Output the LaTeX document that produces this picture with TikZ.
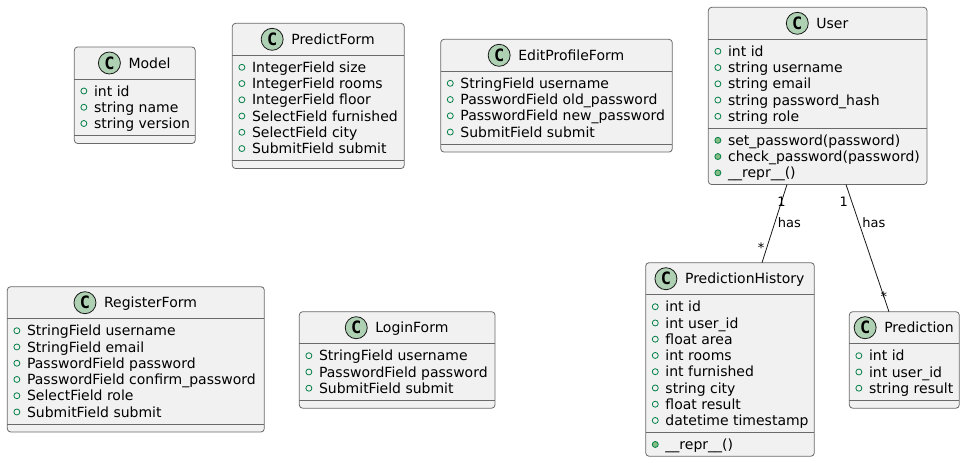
\documentclass[tikz,border=0pt]{standalone}
\usepackage{fontspec}
\setmainfont{DejaVu Sans}
\newfontfamily\circfont{DejaVu Sans Mono}
\usetikzlibrary{positioning,fit}
\definecolor{umlline}{HTML}{181818}
\definecolor{umlborder}{HTML}{6A6A6A}
\definecolor{umlfill}{HTML}{F1F1F1}
\definecolor{umlcirc}{HTML}{ADD1B2}
\definecolor{umlvis}{HTML}{038048}
\definecolor{umlmeth}{HTML}{84BE84}
\tikzset{
  clsbox/.style={draw=umlborder, fill=umlfill, line width=0.6pt, rounded corners=2.5pt, inner sep=0pt, outer sep=0pt},
  clssep/.style={draw=umlborder, line width=0.6pt},
  clsname/.style={inner sep=0pt, text height=7.65pt, text depth=0pt, font=\fontsize{10.5}{12}\selectfont},
  clsicon/.style={circle, draw=umlline, fill=umlcirc, line width=0.6pt, minimum size=16.5pt, inner sep=0pt, font=\circfont\bfseries\fontsize{12.75}{14}\selectfont},
  member/.style={anchor=west, inner sep=0pt, text height=7.65pt, text depth=0pt, font=\fontsize{10.5}{12}\selectfont},
  fieldic/.style={circle, draw=umlvis, line width=0.6pt, minimum size=4.5pt, inner sep=0pt},
  methic/.style={fieldic, fill=umlmeth},
  assoc/.style={draw=umlline, line width=0.6pt},
  mult/.style={inner sep=0pt, font=\fontsize{9.75}{11}\selectfont},
}

\begin{document}
\begin{tikzpicture}[x=0.75pt, y=-0.75pt]
  \useasboundingbox (0,0) rectangle (965,462);

  % Model
  \node[clsbox, fit={(74.3,47) (195.3,143.5)}] (model) {};
  \node[clsname] (model-name) at (149.55,63) {Model};
  \node[clsicon, left=5.6pt of model-name] (model-icon) {C};
  \draw[clssep] (model.west |- 0,79) -- (model.east |- 0,79);
  \draw[clssep] (model.west |- 0,135.5) -- (model.east |- 0,135.5);
  \foreach \t [count=\i] in {int id, string name, string version} {
    \node[member] (model-a\i) at (93.8,74.75+16.25*\i) {\t};
    \node[fieldic, left=4.9pt of model-a\i] (model-ai\i) {};
  }

  % PredictForm
  \node[clsbox, fit={(232.3,23.3) (404.3,168.55)}] (pform) {};
  \node[clsname] (pform-name) at (333.05,39.3) {PredictForm};
  \node[clsicon, left=5.6pt of pform-name] (pform-icon) {C};
  \draw[clssep] (pform.west |- 0,55.3) -- (pform.east |- 0,55.3);
  \draw[clssep] (pform.west |- 0,160.55) -- (pform.east |- 0,160.55);
  \foreach \t [count=\i] in {IntegerField size, IntegerField rooms, IntegerField floor,
      SelectField furnished, SelectField city, SubmitField submit} {
    \node[member] (pform-a\i) at (251.8,51.05+16.25*\i) {\t};
    \node[fieldic, left=4.9pt of pform-a\i] (pform-ai\i) {};
  }

  % EditProfileForm
  \node[clsbox, fit={(440.7,39.3) (672.3,152.05)}] (eform) {};
  \node[clsname] (eform-name) at (571.25,55.3) {EditProfileForm};
  \node[clsicon, left=5.6pt of eform-name] (eform-icon) {C};
  \draw[clssep] (eform.west |- 0,71.3) -- (eform.east |- 0,71.3);
  \draw[clssep] (eform.west |- 0,144.05) -- (eform.east |- 0,144.05);
  \foreach \t [count=\i] in {StringField username, PasswordField old\_password,
      PasswordField new\_password, SubmitField submit} {
    \node[member] (eform-a\i) at (460.2,67.05+16.25*\i) {\t};
    \node[fieldic, left=4.9pt of eform-a\i] (eform-ai\i) {};
  }

  % User
  \node[clsbox, fit={(708.3,7.3) (927,184.55)}] (user) {};
  \node[clsname] (user-name) at (832.4,23.3) {User};
  \node[clsicon, left=5.6pt of user-name] (user-icon) {C};
  \draw[clssep] (user.west |- 0,39.3) -- (user.east |- 0,39.3);
  \draw[clssep] (user.west |- 0,128.3) -- (user.east |- 0,128.3);
  \foreach \t [count=\i] in {int id, string username, string email,
      string password\_hash, string role} {
    \node[member] (user-a\i) at (727.8,35.05+16.25*\i) {\t};
    \node[fieldic, left=4.9pt of user-a\i] (user-ai\i) {};
  }
  \foreach \t [count=\i] in {set\_password(password), check\_password(password), \_\_repr\_\_()} {
    \node[member] (user-m\i) at (727.8,124.05+16.25*\i) {\t};
    \node[methic, left=4.9pt of user-m\i] (user-mi\i) {};
  }

  % PredictionHistory
  \node[clsbox, fit={(645.7,262.7) (814.3,456.2)}] (hist) {};
  \node[clsname] (hist-name) at (744.75,278.7) {PredictionHistory};
  \node[clsicon, left=5.6pt of hist-name] (hist-icon) {C};
  \draw[clssep] (hist.west |- 0,294.7) -- (hist.east |- 0,294.7);
  \draw[clssep] (hist.west |- 0,432.45) -- (hist.east |- 0,432.45);
  \foreach \t [count=\i] in {int id, int user\_id, float area, int rooms,
      int furnished, string city, float result, datetime timestamp} {
    \node[member] (hist-a\i) at (665.2,290.45+16.25*\i) {\t};
    \node[fieldic, left=4.9pt of hist-a\i] (hist-ai\i) {};
  }
  \node[member] (hist-m1) at (665.2,444.45) {\_\_repr\_\_()};
  \node[methic, left=4.9pt of hist-m1] (hist-mi1) {};

  % Prediction
  \node[clsbox, fit={(849.3,311.7) (959.3,408.2)}] (pred) {};
  \node[clsname] (pred-name) at (919.05,327.7) {Prediction};
  \node[clsicon, left=5.6pt of pred-name] (pred-icon) {C};
  \draw[clssep] (pred.west |- 0,343.7) -- (pred.east |- 0,343.7);
  \draw[clssep] (pred.west |- 0,400.2) -- (pred.east |- 0,400.2);
  \foreach \t [count=\i] in {int id, int user\_id, string result} {
    \node[member] (pred-a\i) at (868.8,339.45+16.25*\i) {\t};
    \node[fieldic, left=4.9pt of pred-a\i] (pred-ai\i) {};
  }

  % RegisterForm
  \node[clsbox, fit={(7.3,286.7) (264.3,431.95)}] (rform) {};
  \node[clsname] (rform-name) at (150.55,302.7) {RegisterForm};
  \node[clsicon, left=5.6pt of rform-name] (rform-icon) {C};
  \draw[clssep] (rform.west |- 0,318.7) -- (rform.east |- 0,318.7);
  \draw[clssep] (rform.west |- 0,423.95) -- (rform.east |- 0,423.95);
  \foreach \t [count=\i] in {StringField username, StringField email, PasswordField password,
      PasswordField confirm\_password, SelectField role, SubmitField submit} {
    \node[member] (rform-a\i) at (26.8,314.45+16.25*\i) {\t};
    \node[fieldic, left=4.9pt of rform-a\i] (rform-ai\i) {};
  }

  % LoginForm
  \node[clsbox, fit={(299.3,311.7) (495,408.2)}] (lform) {};
  \node[clsname] (lform-name) at (411.9,327.7) {LoginForm};
  \node[clsicon, left=5.6pt of lform-name] (lform-icon) {C};
  \draw[clssep] (lform.west |- 0,343.7) -- (lform.east |- 0,343.7);
  \draw[clssep] (lform.west |- 0,400.2) -- (lform.east |- 0,400.2);
  \foreach \t [count=\i] in {StringField username, PasswordField password, SubmitField submit} {
    \node[member] (lform-a\i) at (318.8,339.45+16.25*\i) {\t};
    \node[fieldic, left=4.9pt of lform-a\i] (lform-ai\i) {};
  }

  % associations
  \draw[assoc] ([xshift=-23pt]user.south)
    -- node[mult, pos=0.22] (m1) {1}
       node[mult, pos=0.49, right=2pt] (h1) {has}
       node[mult, pos=0.81, left=1.5pt] (s1) {*}
    ([xshift=24pt]hist.north);
  \draw[assoc] ([xshift=21.26pt]user.south)
    -- node[mult, pos=0.133, left=2.5pt] (m2) {1}
       node[mult, pos=0.30, right=2.3pt] (h2) {has}
       node[mult, pos=0.883] (s2) {*}
    ([xshift=-11.5pt]pred.north);
\end{tikzpicture}
\end{document}
